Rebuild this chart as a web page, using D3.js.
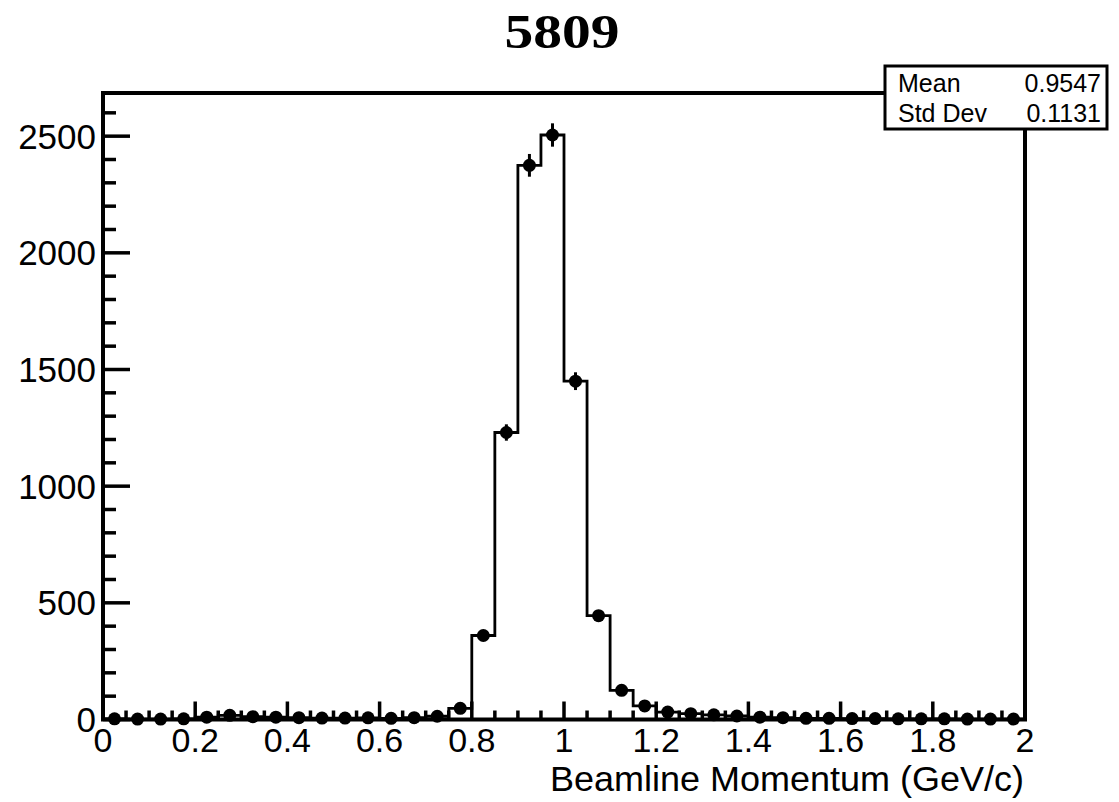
<!DOCTYPE html>
<html>
<head>
<meta charset="utf-8">
<script src="https://cdn.jsdelivr.net/npm/d3@7"></script>
<style>
  html, body { margin: 0; padding: 0; background: #fff; }
  svg { display: block; }
  text { font-family: "Liberation Sans", Arial, Helvetica, sans-serif; fill: #000; }
</style>
</head>
<body>
<svg id="chart" width="1119" height="802"></svg>
<script>
// Run 5809 beamline momentum histogram: 40 bins from 0 to 2 GeV/c
const runTitle = "5809";
const binEdgesRange = [0, 2];
const binWidth = 0.05;
const binCounts = [
  3, 2, 2, 3, 10, 18, 12, 10, 8, 6,
  6, 7, 5, 8, 14, 48, 360, 1230, 2375, 2505,
  1450, 445, 125, 58, 32, 25, 20, 15, 10, 8,
  5, 5, 4, 4, 3, 3, 3, 2, 2, 2
];
const xTickValues = [0, 0.2, 0.4, 0.6, 0.8, 1, 1.2, 1.4, 1.6, 1.8, 2];
const yTickValues = [0, 500, 1000, 1500, 2000, 2500];
const yMax = 2685;
const statLabels = ["Mean", "Std Dev"];
const statValues = ["0.9547", "0.1131"];
const xAxisTitle = "Beamline Momentum (GeV/c)";

const svg = d3.select("#chart");
const frame = { left: 103, right: 1025, top: 93, bottom: 719.5 };

const x = d3.scaleLinear().domain(binEdgesRange).range([frame.left, frame.right]);
const y = d3.scaleLinear().domain([0, yMax]).range([frame.bottom, frame.top]);

const bins = binCounts.map((c, i) => ({
  x0: binEdgesRange[0] + i * binWidth,
  x1: binEdgesRange[0] + (i + 1) * binWidth,
  c
}));

// Title (wide bold serif)
svg.append("text")
  .attr("x", 562).attr("y", 48)
  .attr("text-anchor", "middle")
  .attr("textLength", 115)
  .attr("lengthAdjust", "spacingAndGlyphs")
  .style("font-family", "'Liberation Serif', 'Times New Roman', serif")
  .style("font-weight", "bold")
  .style("font-size", "49px")
  .text(runTitle);

// Step outline of the histogram
const stepPts = [];
bins.forEach((b, i) => {
  stepPts.push([x(b.x0), y(i === 0 ? 0 : b.c)]);
  stepPts.push([x(b.x0), y(b.c)]);
  stepPts.push([x(b.x1), y(b.c)]);
});
stepPts.push([x(binEdgesRange[1]), y(0)]);
svg.append("path")
  .attr("d", d3.line()(stepPts))
  .attr("fill", "none")
  .attr("stroke", "#000")
  .attr("stroke-width", 2.8)
  .attr("stroke-linejoin", "miter");

// Error bars (sqrt N) and markers
const pts = svg.append("g");
pts.selectAll("line.err").data(bins).join("line")
  .attr("class", "err")
  .attr("x1", d => x((d.x0 + d.x1) / 2))
  .attr("x2", d => x((d.x0 + d.x1) / 2))
  .attr("y1", d => y(Math.max(0, d.c - Math.sqrt(d.c))))
  .attr("y2", d => y(d.c + Math.sqrt(d.c)))
  .attr("stroke", "#000")
  .attr("stroke-width", 3);
pts.selectAll("circle").data(bins).join("circle")
  .attr("cx", d => x((d.x0 + d.x1) / 2))
  .attr("cy", d => y(d.c))
  .attr("r", 6.5)
  .attr("fill", "#000");

// Minor/major ticks (drawn inward)
const xMinor = d3.range(0, 40.5, 1).map(i => i * 0.05);
const yMinor = d3.range(0, 27, 1).map(i => i * 100);
const ticks = svg.append("g").attr("stroke", "#000").attr("stroke-width", 3.5);
xMinor.forEach(v => {
  const major = Math.abs(v / 0.2 - Math.round(v / 0.2)) < 1e-6;
  ticks.append("line")
    .attr("x1", x(v)).attr("x2", x(v))
    .attr("y1", frame.bottom).attr("y2", frame.bottom - (major ? 18 : 9));
});
yMinor.forEach(v => {
  const major = v % 500 === 0;
  ticks.append("line")
    .attr("x1", frame.left).attr("x2", frame.left + (major ? 27 : 13))
    .attr("y1", y(v)).attr("y2", y(v));
});

// Frame
svg.append("rect")
  .attr("x", frame.left).attr("y", frame.top)
  .attr("width", frame.right - frame.left)
  .attr("height", frame.bottom - frame.top)
  .attr("fill", "none")
  .attr("stroke", "#000")
  .attr("stroke-width", 4);

// Tick labels
svg.append("g").selectAll("text").data(xTickValues).join("text")
  .attr("x", d => x(d))
  .attr("y", 752)
  .attr("text-anchor", "middle")
  .style("font-size", "34px")
  .text(d => d3.format("~g")(d));

svg.append("g").selectAll("text").data(yTickValues).join("text")
  .attr("x", 96)
  .attr("y", d => y(d) + 12.5)
  .attr("text-anchor", "end")
  .style("font-size", "35px")
  .text(d => d);

// Axis title
svg.append("text")
  .attr("x", 1024).attr("y", 791)
  .attr("text-anchor", "end")
  .attr("textLength", 474)
  .attr("lengthAdjust", "spacingAndGlyphs")
  .style("font-size", "35px")
  .text(xAxisTitle);

// Statistics box
const box = svg.append("g");
box.append("rect")
  .attr("x", 885).attr("y", 66)
  .attr("width", 222).attr("height", 63)
  .attr("fill", "#fff")
  .attr("stroke", "#000")
  .attr("stroke-width", 3);
statLabels.forEach((s, i) => {
  box.append("text")
    .attr("x", 898).attr("y", 92 + i * 29.5)
    .style("font-size", "25px")
    .text(s);
  box.append("text")
    .attr("x", 1101).attr("y", 92 + i * 29.5)
    .attr("text-anchor", "end")
    .style("font-size", "25px")
    .text(statValues[i]);
});
</script>
</body>
</html>
